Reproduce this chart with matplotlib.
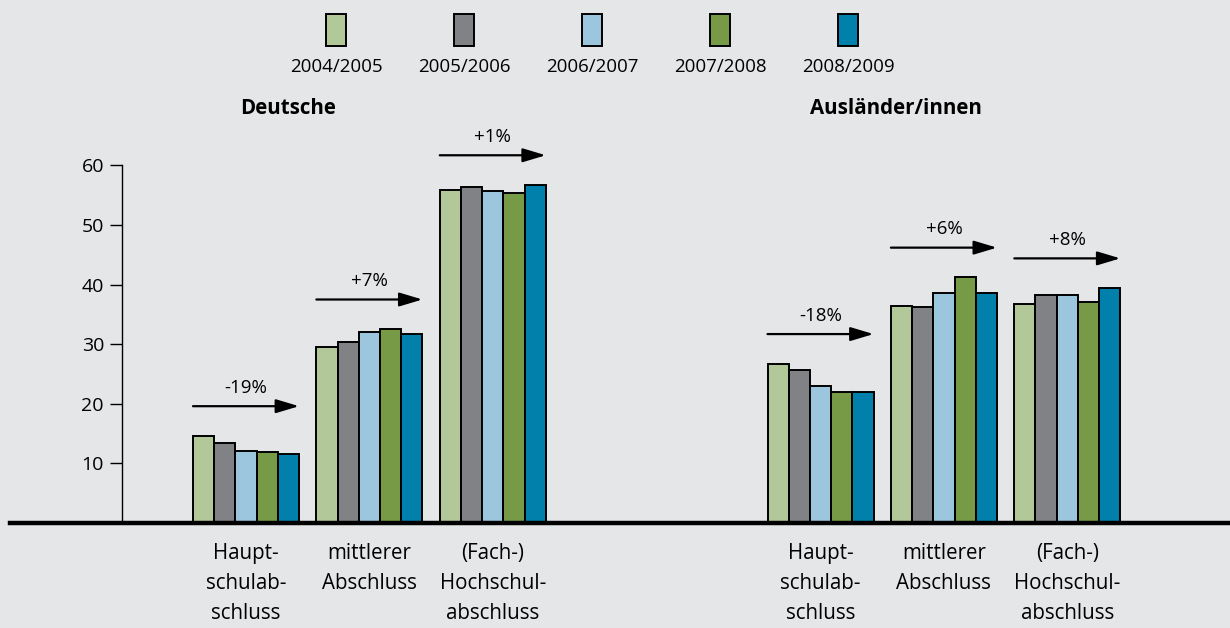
import numpy as np
import matplotlib.pyplot as plt
from matplotlib.patches import Rectangle

plt.rcParams['font.family'] = ['Open Sans', 'DejaVu Sans']

# Daten
jahre = ['2004/2005', '2005/2006', '2006/2007', '2007/2008', '2008/2009']
farben = ['#b3c899', '#818285', '#9cc5de', '#769a45', '#0080ab']
abschluesse = ['Haupt-\nschulab-\nschluss', 'mittlerer\nAbschluss', '(Fach-)\nHochschul-\nabschluss']
gruppen = ['Deutsche', 'Ausländer/innen']

deutsche = [
    [14.6, 13.4, 12.1, 11.9, 11.6],
    [29.5, 30.4, 32.0, 32.5, 31.7],
    [55.9, 56.3, 55.7, 55.3, 56.7],
]
auslaender = [
    [26.7, 25.6, 23.0, 21.9, 21.9],
    [36.4, 36.2, 38.6, 41.2, 38.6],
    [36.8, 38.3, 38.3, 37.0, 39.4],
]
veraenderung_de = ['-19%', '+7%', '+1%']
veraenderung_aus = ['-18%', '+6%', '+8%']

bg = '#e5e6e8'
W, H = 1230, 628
fig = plt.figure(figsize=(12.3, 6.28), dpi=100, facecolor=bg)

# Achse: 1 Einheit = eine Balkenbreite (~21.2 px)
px = 21.2
x0 = -193 / px
ax = fig.add_axes([0, (H - 523) / H, 1, (523 - 130) / H])
ax.set_facecolor(bg)
ax.set_xlim(x0, x0 + W / px)
ax.set_ylim(0, (523 - 130) / 5.96)

gruppen_abstand = 5.82
sektion_abstand = 27.1

for s, (daten, texte) in enumerate([(deutsche, veraenderung_de), (auslaender, veraenderung_aus)]):
    for i, werte in enumerate(daten):
        links = s * sektion_abstand + i * gruppen_abstand
        xs = links + np.arange(len(werte)) + 0.5
        ax.bar(xs, werte, width=1.0, color=farben, edgecolor='black', linewidth=1.4, zorder=3)
        y_pfeil = max(werte) + 5
        ax.annotate('', xy=(links + 5, y_pfeil), xytext=(links, y_pfeil),
                    arrowprops=dict(arrowstyle='-|>,head_length=1.4,head_width=0.42',
                                    color='black', lw=1.6, shrinkA=0, shrinkB=0))
        ax.text(links + 2.5, y_pfeil + 1.6, texte[i], ha='center', va='bottom', fontsize=13.5)
        ax.text(links + 2.5, -3.4, abschluesse[i], ha='center', va='top', fontsize=14.8,
                linespacing=1.55)

# y-Achse
for sp in ['top', 'right', 'bottom']:
    ax.spines[sp].set_visible(False)
ax.spines['left'].set_position(('data', (122 - 193) / px))
ax.spines['left'].set_bounds(0, 60)
ax.spines['left'].set_linewidth(1.0)
ax.set_yticks([10, 20, 30, 40, 50, 60])
ax.tick_params(axis='y', direction='out', length=9, width=1.0, labelsize=14, pad=4)
ax.set_xticks([])

# Grundlinie
ax.axhline(0, xmin=10 / W, xmax=1, color='black', lw=3.2, zorder=4, clip_on=False)

# Gruppentitel
fig.text(288 / W, 1 - 108 / H, gruppen[0], ha='center', va='center', fontsize=14.8, fontweight='bold')
fig.text(896 / W, 1 - 108 / H, gruppen[1], ha='center', va='center', fontsize=14.8, fontweight='bold')

# Legende (Kästchen über Beschriftung)
for k, (jahr, farbe) in enumerate(zip(jahre, farben)):
    cx = 336 + k * 128
    fig.add_artist(Rectangle(((cx - 10) / W, 1 - 46 / H), 20 / W, 32 / H,
                             transform=fig.transFigure, facecolor=farbe,
                             edgecolor='black', linewidth=1.4))
    fig.text(cx / W, 1 - 67 / H, jahr, ha='center', va='center', fontsize=13.5)

fig.savefig('out.png', dpi=100, facecolor=bg)
